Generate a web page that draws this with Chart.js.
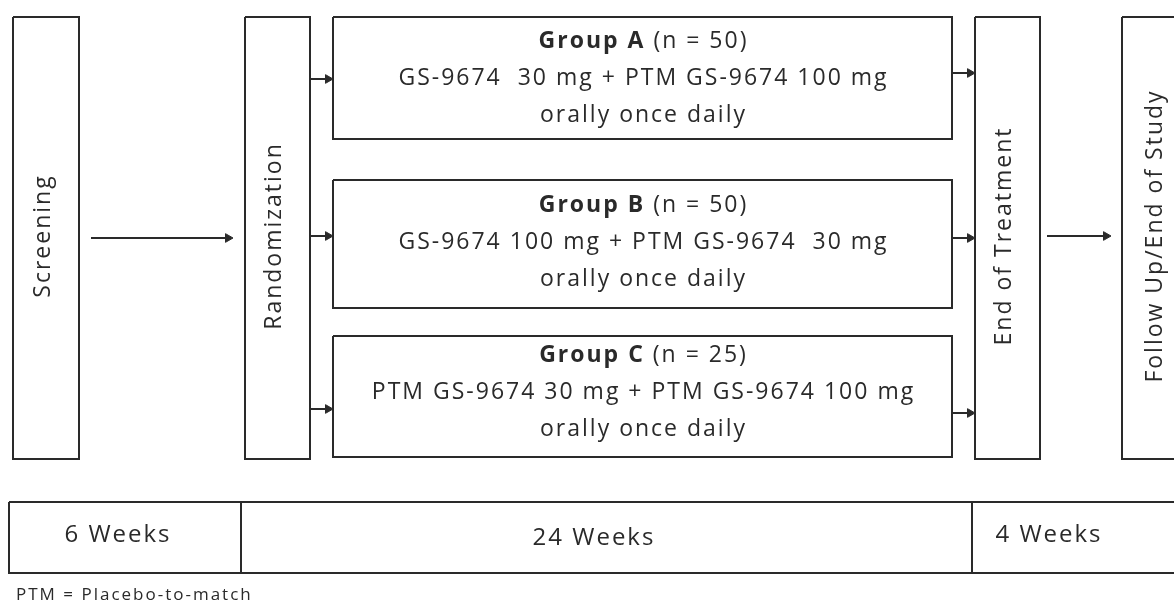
<!DOCTYPE html>
<html>
<head>
<meta charset="utf-8">
<script src="https://cdn.jsdelivr.net/npm/chart.js@4.4.1/dist/chart.umd.min.js"></script>
<style>
  html, body { margin: 0; padding: 0; background: #fff; }
  #wrap { width: 1174px; height: 603px; }
</style>
</head>
<body>
<div id="wrap"><canvas id="flowChart" width="1174" height="603"></canvas></div>
<script>
// study design content
const phases = ['Screening', 'Randomization', 'End of Treatment', 'Follow Up/End of Study'];
const groups = ['Group A', 'Group B', 'Group C'];
const groupN = [50, 50, 25];
const regimens = [
  'GS-9674  30 mg + PTM GS-9674 100 mg',
  'GS-9674 100 mg + PTM GS-9674  30 mg',
  'PTM GS-9674 30 mg + PTM GS-9674 100 mg'
];
const dosing = ['orally once daily', 'orally once daily', 'orally once daily'];
const periods = ['6 Weeks', '24 Weeks', '4 Weeks'];
const footnote = 'PTM = Placebo-to-match';

// layout on a 1174 x 603 grid: [x0, y0, x1, y1]
const phaseBoxes = [[13, 17, 79, 459], [245, 17, 310, 459], [975, 17, 1040, 459], [1122, 17, 1192, 459]];
const groupBoxes = [[333, 17, 952, 139], [333, 180, 952, 308], [333, 336, 952, 457]];
const groupTextY = [41, 205, 355];
const lineGap = 37;
const arrows = [[91, 233, 238], [310, 333, 79], [310, 333, 236], [310, 333, 409],
                [952, 975, 73], [952, 975, 238], [952, 975, 413], [1047, 1111, 236]]; // x0, x1, y
const timeline = [9, 502, 1200, 573];
const dividers = [241, 972];
const periodX = [117, 593, 1048];
const periodY = [535, 538, 535];

const ink = '#2a2a2a';
const font = '"Open Sans", "Noto Sans", sans-serif';
const headR = 5;

function boxPath(b) {
  return [{x: b[0], y: b[1]}, {x: b[2], y: b[1]}, {x: b[2], y: b[3]}, {x: b[0], y: b[3]}, {x: b[0], y: b[1]}];
}

const lineStyle = { showLine: true, borderColor: ink, backgroundColor: ink, borderWidth: 2, pointRadius: 0, tension: 0, fill: false };
const datasets = [];
phaseBoxes.concat(groupBoxes, [timeline]).forEach(b => {
  datasets.push(Object.assign({ data: boxPath(b) }, lineStyle));
});
dividers.forEach(x => {
  datasets.push(Object.assign({ data: [{x: x, y: timeline[1]}, {x: x, y: timeline[3]}] }, lineStyle));
});
arrows.forEach(a => {
  datasets.push(Object.assign({}, lineStyle, {
    data: [{x: a[0], y: a[2]}, {x: a[1] - headR, y: a[2]}],
    pointRadius: [0, headR],
    pointStyle: 'triangle',
    pointRotation: 90,
    pointBackgroundColor: ink,
    pointBorderColor: ink,
    pointBorderWidth: 1
  }));
});

// centred text with letter spacing (trailing gap taken off)
function spaced(ctx, str, cx, cy, gap) {
  ctx.letterSpacing = gap + 'px';
  ctx.textAlign = 'center';
  ctx.fillText(str, cx + gap / 2, cy);
}

const textPlugin = {
  id: 'flowText',
  afterDatasetsDraw(chart) {
    const {ctx, scales: {x, y}} = chart;
    ctx.save();
    ctx.fillStyle = ink;
    ctx.textBaseline = 'middle';

    // vertical phase labels
    ctx.font = '23px ' + font;
    phases.forEach((p, i) => {
      const b = phaseBoxes[i];
      const cx = i === 3 ? 1155 : (b[0] + b[2]) / 2 - 3;
      ctx.save();
      ctx.translate(x.getPixelForValue(cx), y.getPixelForValue(237));
      ctx.rotate(-Math.PI / 2);
      spaced(ctx, p, 0, 0, 2);
      ctx.restore();
    });

    // group boxes
    groups.forEach((g, i) => {
      const b = groupBoxes[i];
      const cx = x.getPixelForValue((b[0] + b[2]) / 2);
      const ty = groupTextY[i];
      ctx.letterSpacing = '2px';
      ctx.font = 'bold 23px ' + font;
      const w1 = ctx.measureText(g).width;
      const rest = ' (n = ' + groupN[i] + ')';
      ctx.font = '23px ' + font;
      const w2 = ctx.measureText(rest).width;
      const left = cx - (w1 + w2 - 2) / 2;
      ctx.textAlign = 'left';
      ctx.font = 'bold 23px ' + font;
      ctx.fillText(g, left, y.getPixelForValue(ty));
      ctx.font = '23px ' + font;
      ctx.fillText(rest, left + w1, y.getPixelForValue(ty));
      spaced(ctx, regimens[i], cx, y.getPixelForValue(ty + lineGap), 2);
      spaced(ctx, dosing[i], cx, y.getPixelForValue(ty + 2 * lineGap), 2);
    });

    // timeline periods
    ctx.font = '24px ' + font;
    periods.forEach((p, i) => {
      spaced(ctx, p, x.getPixelForValue(periodX[i]), y.getPixelForValue(periodY[i]), 2);
    });

    // footnote
    ctx.font = '17px ' + font;
    ctx.letterSpacing = '2px';
    ctx.textAlign = 'left';
    ctx.textBaseline = 'alphabetic';
    ctx.fillText(footnote, x.getPixelForValue(16), y.getPixelForValue(600));
    ctx.restore();
  }
};

const flowChart = new Chart(document.getElementById('flowChart').getContext('2d'), {
  type: 'scatter',
  data: { datasets: datasets },
  options: {
    responsive: false,
    animation: false,
    devicePixelRatio: 1,
    layout: { padding: 0, autoPadding: false },
    scales: {
      x: { type: 'linear', min: 0, max: 1174, display: false },
      y: { type: 'linear', min: 0, max: 603, reverse: true, display: false }
    },
    plugins: {
      legend: { display: false },
      tooltip: { enabled: false }
    }
  },
  plugins: [textPlugin]
});
</script>
</body>
</html>
